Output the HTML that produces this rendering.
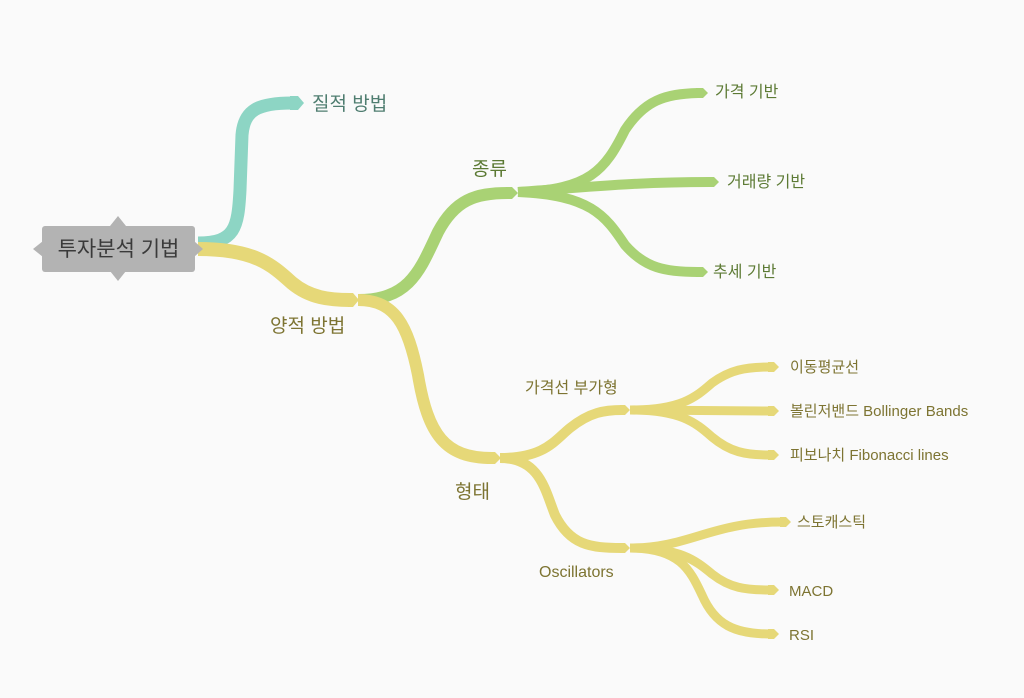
<!DOCTYPE html>
<html><head><meta charset="utf-8"><style>
html,body{margin:0;padding:0;background:#fafafa;}
svg{display:block}
text{font-family:"Liberation Sans","Noto Sans CJK KR",sans-serif;}
</style></head><body>
<svg width="1024" height="698" viewBox="0 0 1024 698" xmlns="http://www.w3.org/2000/svg">
<rect width="1024" height="698" fill="#fafafa"/>
<g fill="none" stroke-linecap="butt">
<path d="M198,243 C235,243 238,228 240,190 L242,135 C244,110 258,103 292,103" stroke="#8dd5c4" stroke-width="13"/>
<path d="M198,249 C255,249 272,265 292,283 C310,298 330,300 350,300" stroke="#e6d878" stroke-width="14"/>
<path d="M358,300 C410,300 420,270 438,232 C455,200 475,193 508,193" stroke="#a9d274" stroke-width="12"/>
<path d="M518,192 C590,190 605,170 625,130 C645,100 665,94 698,93" stroke="#a9d274" stroke-width="10"/>
<path d="M518,192 C600,186 640,182 710,182" stroke="#a9d274" stroke-width="10"/>
<path d="M518,192 C590,195 605,215 625,245 C645,268 665,272 698,272" stroke="#a9d274" stroke-width="10"/>
<path d="M358,300 C395,300 408,325 418,375 C428,435 445,458 492,458" stroke="#e6d878" stroke-width="12"/>
<path d="M500,458 C545,458 555,440 570,428 C590,412 605,410 622,410" stroke="#e6d878" stroke-width="10"/>
<path d="M500,458 C540,458 545,490 555,515 C570,545 590,548 622,548" stroke="#e6d878" stroke-width="10"/>
<path d="M630,410 C680,410 695,398 712,383 C730,370 745,367 770,367" stroke="#e6d878" stroke-width="9"/>
<path d="M630,410 C680,410 720,411 770,411" stroke="#e6d878" stroke-width="9"/>
<path d="M630,410 C680,410 695,422 712,437 C730,452 745,455 770,455" stroke="#e6d878" stroke-width="9"/>
<path d="M630,548 C690,548 710,522 782,522" stroke="#e6d878" stroke-width="9"/>
<path d="M630,548 C680,548 695,560 712,574 C730,588 745,590 770,590" stroke="#e6d878" stroke-width="9"/>
<path d="M630,548 C680,548 690,570 702,595 C715,625 735,634 770,634" stroke="#e6d878" stroke-width="9"/>
</g>
<g>
<polygon points="290,96 298,96 304,103 298,110 290,110" fill="#8dd5c4"/>
<polygon points="348,293 353,293 359,300 353,307 348,307" fill="#e6d878"/>
<polygon points="506,187 512,187 518,193 512,199 506,199" fill="#a9d274"/>
<polygon points="696,88 703,88 708,93 703,98 696,98" fill="#a9d274"/>
<polygon points="708,177 714,177 719,182 714,187 708,187" fill="#a9d274"/>
<polygon points="696,267 703,267 708,272 703,277 696,277" fill="#a9d274"/>
<polygon points="490,452 495,452 501,458 495,464 490,464" fill="#e6d878"/>
<polygon points="620,405 625,405 630,410 625,415 620,415" fill="#e6d878"/>
<polygon points="620,543 625,543 630,548 625,553 620,553" fill="#e6d878"/>
<polygon points="768,362 774,362 779,367 774,372 768,372" fill="#e6d878"/>
<polygon points="768,406 774,406 779,411 774,416 768,416" fill="#e6d878"/>
<polygon points="768,450 774,450 779,455 774,460 768,460" fill="#e6d878"/>
<polygon points="780,517 786,517 791,522 786,527 780,527" fill="#e6d878"/>
<polygon points="768,585 774,585 779,590 774,595 768,595" fill="#e6d878"/>
<polygon points="768,629 774,629 779,634 774,639 768,639" fill="#e6d878"/>
</g>
<polygon points="118,216 126,226 110,226" fill="#b3b3b3"/>
<polygon points="118,281 126,271 110,271" fill="#b3b3b3"/>
<polygon points="33,249 43,241 43,257" fill="#b3b3b3"/>
<polygon points="203,249 194,241 194,257" fill="#b3b3b3"/>
<rect x="42" y="226" width="153" height="46" rx="3" fill="#b3b3b3"/>
<text x="118.5" y="256" font-size="21" fill="#3a3a3a" text-anchor="middle">투자분석 기법</text>
<text x="312" y="110" font-size="19" fill="#4f7d70">질적 방법</text>
<text x="270" y="332" font-size="19" fill="#7d7432">양적 방법</text>
<text x="472" y="175" font-size="19" fill="#5c7a34">종류</text>
<text x="715" y="97" font-size="16" fill="#5c7a34">가격 기반</text>
<text x="727" y="187" font-size="16" fill="#5c7a34">거래량 기반</text>
<text x="713" y="277" font-size="16" fill="#5c7a34">추세 기반</text>
<text x="455" y="498" font-size="19" fill="#7d7432">형태</text>
<text x="525" y="393" font-size="16" fill="#7d7432">가격선 부가형</text>
<text x="539" y="577" font-size="16" fill="#7d7432">Oscillators</text>
<text x="790" y="372" font-size="15" fill="#7d7432">이동평균선</text>
<text x="790" y="416" font-size="15" fill="#7d7432">볼린저밴드 Bollinger Bands</text>
<text x="790" y="460" font-size="15" fill="#7d7432">피보나치 Fibonacci lines</text>
<text x="797" y="527" font-size="15" fill="#7d7432">스토캐스틱</text>
<text x="789" y="596" font-size="15" fill="#7d7432">MACD</text>
<text x="789" y="640" font-size="15" fill="#7d7432">RSI</text>
</svg>
</body></html>
